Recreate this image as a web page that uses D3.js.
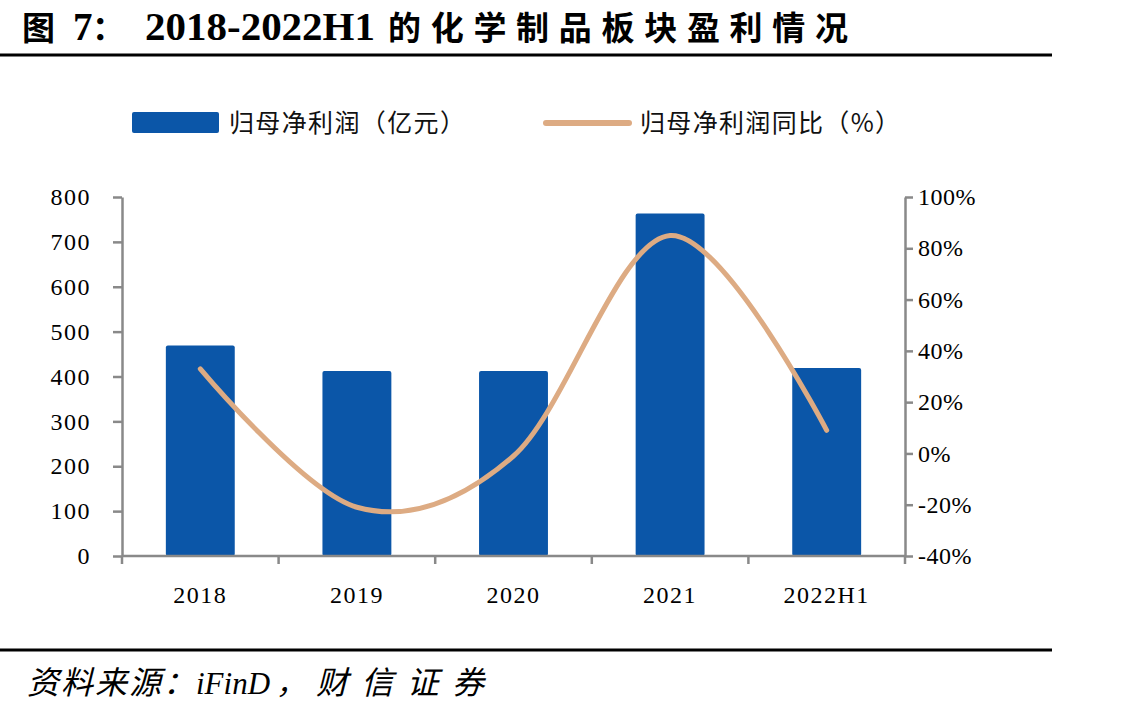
<!DOCTYPE html>
<html>
<head>
<meta charset="utf-8">
<script src="https://cdn.jsdelivr.net/npm/d3@7/dist/d3.min.js"></script>
<style>
  body { margin: 0; background: #fff; }
  svg { display: block; }
</style>
</head>
<body>
<div id="chart"></div>
<script>
// Data
const categories = ['2018', '2019', '2020', '2021', '2022H1'];
const profit = [469, 412, 412, 763, 419];          // 归母净利润（亿元）
const profitYoY = [33, -21, -1, 85, 9];             // 归母净利润同比（%）
const leftTicks = [0, 100, 200, 300, 400, 500, 600, 700, 800];
const rightTicks = [-40, -20, 0, 20, 40, 60, 80, 100];

// Layout
const W = 1132, H = 718;
const plot = { left: 122, right: 905, top: 197, bottom: 556 };
const axisColor = '#898989';
const barColor = '#0b56a8';
const lineColor = '#ddab83';

const svg = d3.select('#chart')
    .append('svg')
    .attr('width', W)
    .attr('height', H);

// Title
const title = svg.append('text')
    .attr('y', 40)
    .attr('fill', '#000')
    .attr('font-weight', 'bold');
title.append('tspan').attr('x', 22).attr('font-family', 'Noto Sans CJK SC').attr('font-size', 33).text('图');
title.append('tspan').attr('x', 73).attr('font-family', 'Liberation Serif').attr('font-size', 39).text('7');
title.append('tspan').attr('x', 92).attr('font-family', 'Noto Sans CJK SC').attr('font-size', 33).text('：');
title.append('tspan').attr('x', 145).attr('font-family', 'Liberation Serif').attr('font-size', 39)
    .attr('textLength', 230).attr('lengthAdjust', 'spacingAndGlyphs').text('2018-2022H1');
title.append('tspan').attr('x', 388).attr('font-family', 'Noto Sans CJK SC').attr('font-size', 33)
    .attr('textLength', 460).attr('lengthAdjust', 'spacing').text('的化学制品板块盈利情况');

// Horizontal rules
svg.append('line').attr('x1', 0).attr('x2', 1052).attr('y1', 55).attr('y2', 55)
    .attr('stroke', '#000').attr('stroke-width', 3);
svg.append('line').attr('x1', 0).attr('x2', 1052).attr('y1', 650).attr('y2', 650)
    .attr('stroke', '#000').attr('stroke-width', 3);

// Source
const src = svg.append('text')
    .attr('y', 694)
    .attr('fill', '#000')
    .attr('font-style', 'italic')
    .attr('font-size', 32);
src.append('tspan').attr('x', 27).attr('font-family', 'Noto Sans CJK SC')
    .attr('textLength', 168).attr('lengthAdjust', 'spacing').text('资料来源：');
src.append('tspan').attr('x', 196).attr('font-family', 'Liberation Serif').attr('font-size', 31).text('iFinD');
src.append('tspan').attr('x', 276).attr('font-family', 'Noto Sans CJK SC').attr('font-size', 30).text('，');
src.append('tspan').attr('x', 316).attr('font-family', 'Noto Sans CJK SC')
    .attr('textLength', 168).attr('lengthAdjust', 'spacing').text('财信证券');

// Scales
const xScale = d3.scaleBand()
    .domain(categories)
    .range([plot.left, plot.right])
    .paddingInner(0.56)
    .paddingOuter(0.28);
const xEdges = d3.scaleBand()
    .domain(categories)
    .range([plot.left, plot.right])
    .padding(0);
const yLeft = d3.scaleLinear().domain([0, 800]).range([plot.bottom, plot.top]);
const yRight = d3.scaleLinear().domain([-40, 100]).range([plot.bottom, plot.top]);

// Bars
svg.selectAll('rect.bar')
    .data(categories)
    .enter().append('rect')
    .attr('class', 'bar')
    .attr('x', d => xScale(d))
    .attr('y', (d, i) => yLeft(profit[i]))
    .attr('width', xScale.bandwidth())
    .attr('height', (d, i) => yLeft(0) - yLeft(profit[i]))
    .attr('rx', 2)
    .attr('fill', barColor);

// Smoothed line for YoY
const line = d3.line()
    .x((d, i) => xScale(categories[i]) + xScale.bandwidth() / 2)
    .y(d => yRight(d))
    .curve(d3.curveCatmullRom.alpha(0));
svg.append('path')
    .datum(profitYoY)
    .attr('d', line)
    .attr('fill', 'none')
    .attr('stroke', lineColor)
    .attr('stroke-width', 5)
    .attr('stroke-linecap', 'round');

// Axes
const styleAxis = g => {
    g.selectAll('.domain').attr('stroke', axisColor).attr('stroke-width', 2.5);
    g.selectAll('.tick line').attr('stroke', axisColor).attr('stroke-width', 2.5);
    g.selectAll('text')
        .attr('fill', '#000')
        .attr('font-family', 'Liberation Serif')
        .attr('font-size', 24)
        .attr('letter-spacing', 1.5);
};

svg.append('g')
    .attr('transform', `translate(${plot.left},0)`)
    .call(d3.axisLeft(yLeft).tickValues(leftTicks).tickSize(9).tickSizeOuter(0).tickPadding(22))
    .call(styleAxis);

svg.append('g')
    .attr('transform', `translate(${plot.right},0)`)
    .call(d3.axisRight(yRight).tickValues(rightTicks).tickSize(8).tickSizeOuter(0).tickPadding(5)
        .tickFormat(d => d + '%'))
    .call(styleAxis)
    .selectAll('text').attr('letter-spacing', 0.5);

// X axis: line, ticks at band edges, labels centered
const xg = svg.append('g').attr('transform', `translate(0,${plot.bottom})`);
xg.append('line').attr('x1', plot.left).attr('x2', plot.right)
    .attr('stroke', axisColor).attr('stroke-width', 2.5);
const edges = categories.map(d => xEdges(d)).concat([plot.right]);
xg.selectAll('line.tk')
    .data(edges)
    .enter().append('line')
    .attr('class', 'tk')
    .attr('x1', d => d).attr('x2', d => d)
    .attr('y1', 0).attr('y2', 8)
    .attr('stroke', axisColor).attr('stroke-width', 2.5);
xg.selectAll('text')
    .data(categories)
    .enter().append('text')
    .attr('x', d => xScale(d) + xScale.bandwidth() / 2)
    .attr('y', 47)
    .attr('text-anchor', 'middle')
    .attr('fill', '#000')
    .attr('font-family', 'Liberation Serif')
    .attr('font-size', 24)
    .attr('letter-spacing', 1.5)
    .text(d => d);

// Legend
const lg = svg.append('g');
lg.append('rect').attr('x', 132).attr('y', 112).attr('width', 87).attr('height', 21)
    .attr('rx', 2).attr('fill', barColor);
lg.append('text').attr('x', 229).attr('y', 132)
    .attr('font-family', 'Noto Sans CJK SC').attr('font-size', 25).attr('fill', '#111')
    .attr('textLength', 236).attr('lengthAdjust', 'spacing')
    .text('归母净利润（亿元）');
lg.append('line').attr('x1', 546).attr('x2', 629).attr('y1', 123).attr('y2', 123)
    .attr('stroke', lineColor).attr('stroke-width', 6).attr('stroke-linecap', 'round');
lg.append('text').attr('x', 640).attr('y', 132)
    .attr('font-family', 'Noto Sans CJK SC').attr('font-size', 25).attr('fill', '#111')
    .attr('textLength', 260).attr('lengthAdjust', 'spacing')
    .text('归母净利润同比（%）');
</script>
</body>
</html>
